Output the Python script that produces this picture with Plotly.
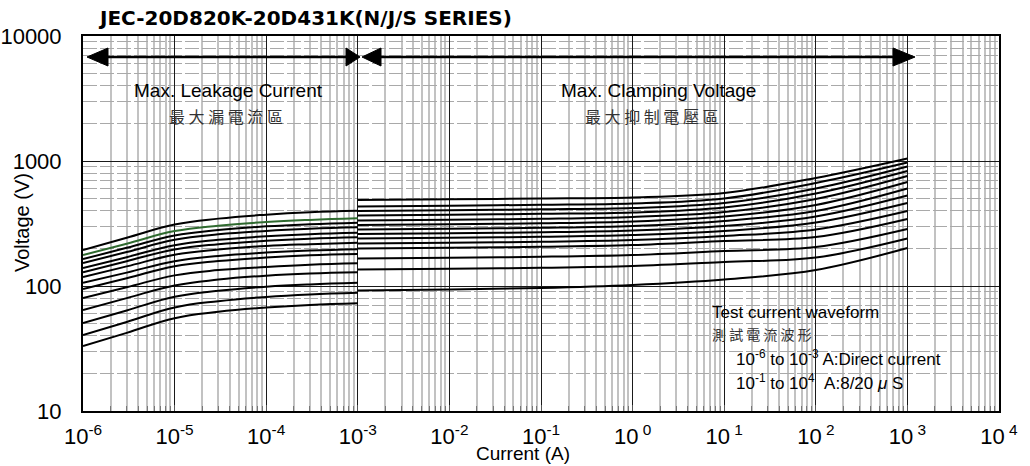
import plotly.graph_objects as go

# ---------------------------------------------------------------------------
# V-I characteristics, JEC 20D varistor series (82 V ... 430 V types)
# ---------------------------------------------------------------------------
parts = ["20D820K", "20D101K", "20D121K", "20D151K", "20D181K", "20D201K", "20D221K",
         "20D241K", "20D271K", "20D301K", "20D331K", "20D361K", "20D391K", "20D431K"]

# leakage region (direct current), amperes
leak_current = [1e-6, 3e-6, 1e-5, 3e-5, 1e-4, 3e-4, 1e-3]
# clamping region (8/20 us pulse), amperes
clamp_current = [1e-3, 1e-2, 1e-1, 1e0, 1e1, 1e2, 1e3]

# voltages (V), one list per part, same order as `parts`
leak_820 = [33.1, 42.2, 55.3, 62.2, 67.2, 70.5, 72.7]
leak_101 = [40.6, 51.6, 67.3, 75.6, 81.8, 85.7, 88.4]
leak_121 = [50.6, 63.7, 82.0, 91.5, 98.7, 103, 106]
leak_151 = [64.3, 80.0, 101, 112.5, 121, 126, 129]
leak_181 = [80.2, 97.8, 121.6, 134, 142, 148, 152]
leak_201 = [94.6, 115.5, 144, 158.5, 169, 176, 180]
leak_221 = [106, 128, 158, 174, 185, 192, 197]
leak_241 = [118, 143.5, 178, 196, 209, 216, 222]
leak_271 = [129, 158, 196, 216, 230, 239, 245]
leak_301 = [139, 170, 212, 234, 250, 260, 267]
leak_331 = [153, 187, 234, 259, 276, 287, 295]
leak_361 = [164, 202, 254, 280, 300, 312, 321]
leak_391 = [177, 218, 275, 304, 325, 338, 348]
leak_431 = [194, 243, 310, 346, 372, 389, 400]

clamp_820 = [92.0, 93.8, 96.4, 101.9, 112.7, 134.3, 201.4]
clamp_101 = [135.5, 137.5, 139.8, 144.5, 155.6, 169.0, 239.9]
clamp_121 = [166.0, 168.4, 171.3, 177.0, 190.5, 205.1, 285.8]
clamp_151 = [199.5, 202.5, 205.8, 212.8, 229.1, 246.6, 343.6]
clamp_181 = [218.8, 222.0, 225.7, 233.3, 251.2, 283.1, 398.1]
clamp_201 = [239.9, 243.4, 247.5, 255.9, 275.4, 322.1, 461.3]
clamp_221 = [260.6, 264.5, 268.9, 278.0, 302.0, 359.7, 529.7]
clamp_241 = [283.1, 287.3, 292.1, 302.0, 331.1, 398.1, 602.6]
clamp_271 = [307.6, 312.2, 317.4, 328.1, 359.7, 444.6, 679.2]
clamp_301 = [334.2, 339.1, 344.8, 356.5, 390.8, 496.6, 758.6]
clamp_331 = [366.4, 371.9, 378.1, 387.3, 424.6, 549.5, 831.8]
clamp_361 = [398.1, 404.0, 410.8, 420.7, 461.3, 602.6, 903.6]
clamp_391 = [432.5, 439.0, 446.3, 457.1, 501.2, 666.8, 972.7]
clamp_431 = [487.5, 493.8, 501.2, 510.5, 554.6, 731.1, 1047]

leak_voltage = [leak_820, leak_101, leak_121, leak_151, leak_181, leak_201, leak_221,
                leak_241, leak_271, leak_301, leak_331, leak_361, leak_391, leak_431]
clamp_voltage = [clamp_820, clamp_101, clamp_121, clamp_151, clamp_181, clamp_201, clamp_221,
                 clamp_241, clamp_271, clamp_301, clamp_331, clamp_361, clamp_391, clamp_431]

x_exponents = list(range(-6, 5))
x_ticktext = ["10<sup>-6</sup>", "10<sup>-5</sup>", "10<sup>-4</sup>", "10<sup>-3</sup>",
              "10<sup>-2</sup>", "10<sup>-1</sup>", "10<sup>\u00a00</sup>", "10<sup>\u00a01</sup>",
              "10<sup>\u00a02</sup>", "10<sup>\u00a03</sup>", "10<sup>\u00a04</sup>"]
y_tickvals = [10, 100, 1000, 10000]

# ---------------------------------------------------------------------------
FONT = "Liberation Sans, Arial, sans-serif"
CJK = "Noto Sans CJK TC, sans-serif"

# plot-area geometry in page pixels, used for the decorations
L, T, W, H = 83, 36, 916, 375


def px(x):
    return (x - L) / W


def py(y):
    return (T + H - y) / H


fig = go.Figure()

for name, v in zip(parts, leak_voltage):
    color = "#2f6a2f" if name == "20D391K" else "black"
    fig.add_trace(go.Scatter(x=leak_current, y=v, mode="lines", name=name,
                             line=dict(color=color, width=2, shape="spline", smoothing=1.2),
                             hoverinfo="skip"))

for name, v in zip(parts, clamp_voltage):
    fig.add_trace(go.Scatter(x=clamp_current, y=v, mode="lines", name=name,
                             line=dict(color="black", width=2, shape="spline", smoothing=1.0),
                             hoverinfo="skip"))

x_minor = [m * 10.0 ** e for e in range(-6, 4) for m in range(2, 10)]
y_minor = [m * 10.0 ** e for e in range(1, 4) for m in range(2, 10)]

fig.update_xaxes(
    type="log", range=[-6, 4], automargin=False,
    tickvals=[10.0 ** e for e in x_exponents], ticktext=x_ticktext,
    tickfont=dict(family=FONT, size=22, color="black"),
    ticks="inside", ticklen=6, tickwidth=1, tickcolor="#555",
    ticklabelstandoff=5,
    showgrid=True, gridcolor="#1a1a1a", gridwidth=1.2,
    showline=True, mirror=True, linecolor="black", linewidth=2,
    zeroline=False,
    minor=dict(tickvals=x_minor, showgrid=True, gridcolor="#c2c2c2", gridwidth=2,
               ticks="inside", ticklen=5, tickwidth=1, tickcolor="#777"),
)
fig.update_yaxes(
    type="log", range=[1, 4], automargin=False,
    tickvals=y_tickvals, ticktext=[str(v) for v in y_tickvals],
    tickfont=dict(family=FONT, size=22, color="black"),
    ticks="", ticklabelstandoff=15,
    showgrid=True, gridcolor="#1a1a1a", gridwidth=1.2,
    showline=True, mirror=True, linecolor="black", linewidth=2,
    zeroline=False,
    minor=dict(tickvals=y_minor, showgrid=True, gridcolor="#a9a9a9", gridwidth=1,
               griddash="14px,3px"),
)

shapes = []
# white label panels over the grid
for x0, y0, x1, y1 in [(107, 72, 350, 128), (513, 72, 795, 128), (705, 296, 995, 405)]:
    shapes.append(dict(type="rect", xref="paper", yref="paper",
                       x0=px(x0), x1=px(x1), y0=py(y1), y1=py(y0),
                       fillcolor="white", line=dict(width=0), layer="between"))

# range arrows along the top
ay = 57
for xa, xb in [(100, 352), (372, 905)]:
    shapes.append(dict(type="line", xref="paper", yref="paper",
                       x0=px(xa), x1=px(xb), y0=py(ay), y1=py(ay),
                       line=dict(color="black", width=2.5), layer="above"))


def head(tip, base):
    return dict(type="path", xref="paper", yref="paper",
                path=f"M {px(tip)} {py(ay)} L {px(base)} {py(ay - 9)} L {px(base)} {py(ay + 9)} Z",
                fillcolor="black", line=dict(color="black", width=1), layer="above")


shapes += [head(87, 108), head(360, 346), head(362, 381), head(915, 893)]

ann = []


def text(x, y, s, size, family=FONT, anchor="center", color="black", bold=False, angle=0):
    ann.append(dict(xref="paper", yref="paper", x=px(x), y=py(y), text=s,
                    showarrow=False, xanchor=anchor, yanchor="middle", textangle=angle,
                    font=dict(family=family, size=size, color=color,
                              weight="bold" if bold else "normal")))


text(96, 18, "JEC-20D820K-20D431K(N/J/S SERIES)", 20, family="DejaVu Sans, sans-serif",
     anchor="left", bold=True)
text(228, 90, "Max. Leakage Current", 19)
text(226, 116, "最 大 漏 電 流 區", 16, family=CJK, color="#333")
text(658, 90, "Max. Clamping Voltage", 19)
text(652, 116, "最 大 抑 制 電 壓 區", 16, family=CJK, color="#333")
text(710, 312, "Test current waveform", 17, anchor="left")
text(710, 334, "測 試 電 流 波 形", 14, family=CJK, anchor="left", color="#333")
text(734, 358, "10<sup>-6</sup> to 10<sup>-3</sup> A:Direct current", 17, anchor="left")
text(734, 382, "10<sup>-1</sup> to 10<sup>4</sup>\u00a0\u00a0A:8/20<i>\u00a0μ\u00a0</i>S", 17, anchor="left")
text(523, 453, "Current (A)", 19)
text(22, 223, "Voltage (V)", 20, angle=-90)

fig.update_layout(
    width=1030, height=466,
    margin=dict(l=L, r=1030 - L - W, t=T, b=466 - T - H, autoexpand=False),
    plot_bgcolor="white", paper_bgcolor="white",
    showlegend=False,
    font=dict(family=FONT, color="black"),
    shapes=shapes, annotations=ann,
)

fig.write_html("out.html")
